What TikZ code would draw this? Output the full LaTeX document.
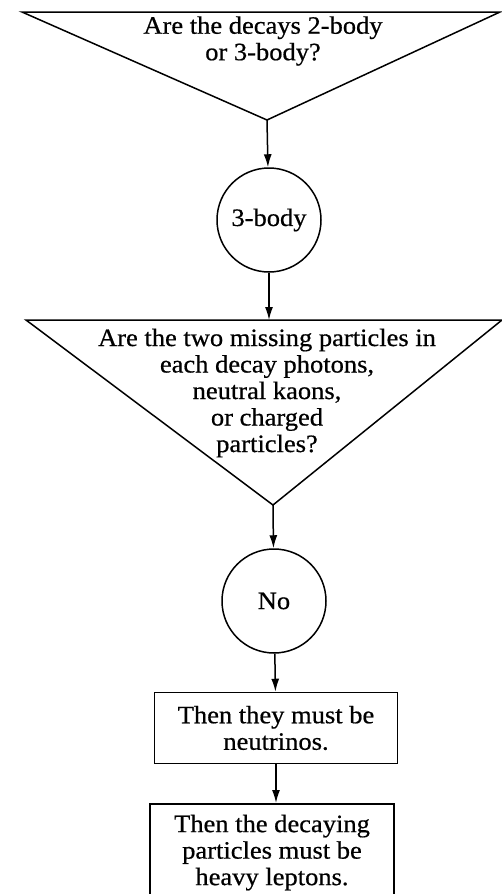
\documentclass[tikz,border=0pt]{standalone}
\usepackage{fontspec}
\setmainfont{Liberation Serif}[FakeStretch=1.06, FakeBold=0.6]
\usetikzlibrary{arrows.meta}

\begin{document}
\begin{tikzpicture}[x=1pt, y=-1pt, line width=1.5pt,
  font=\fontsize{25pt}{26.5pt}\selectfont, >={Latex[length=13pt,width=8pt]},
  tri/.style={draw, line join=miter},
  txt/.style={align=center, inner sep=0pt},
  disc/.style={circle, draw, minimum size=104pt, inner sep=0pt},
  box/.style={rectangle, draw, align=center, inner ysep=11pt}]
  \useasboundingbox (0,0) rectangle (502,894);
  \clip (0,0) rectangle (502,894);
  % first question
  \draw[tri] (22,12) -- (500,12) -- (267,120) -- cycle;
  \coordinate (q1tip) at (267,120);
  \node[txt] (q1) at (263,41) {Are the decays 2-body\\or 3-body?};
  \node[disc] (c1) at (269,220) {3-body};
  % second question
  \draw[tri] (26,320) -- (502,320) -- (273,505) -- cycle;
  \coordinate (q2top) at (269,320);
  \coordinate (q2tip) at (273,505);
  \node[txt] (q2) at (267,393) {Are the two missing particles in\\each decay photons,\\neutral kaons,\\or charged\\particles?};
  \node[disc] (c2) at (274,601) {No};
  % conclusions
  \node[box, minimum width=243pt, minimum height=71pt] (b1) at (276,728) {Then they must be\\neutrinos.};
  \node[box, minimum width=244pt, anchor=north] (b2) at (272,803) {Then the decaying\\particles must be\\heavy leptons.\\\strut};
  \draw[->] (q1tip) -- (c1);
  \draw[->] (c1) -- (q2top);
  \draw[->] (q2tip) -- (c2);
  \draw[->] (c2) -- (b1);
  \draw[->] (b1.south) -- (b1.south |- b2.north);
\end{tikzpicture}
\end{document}
